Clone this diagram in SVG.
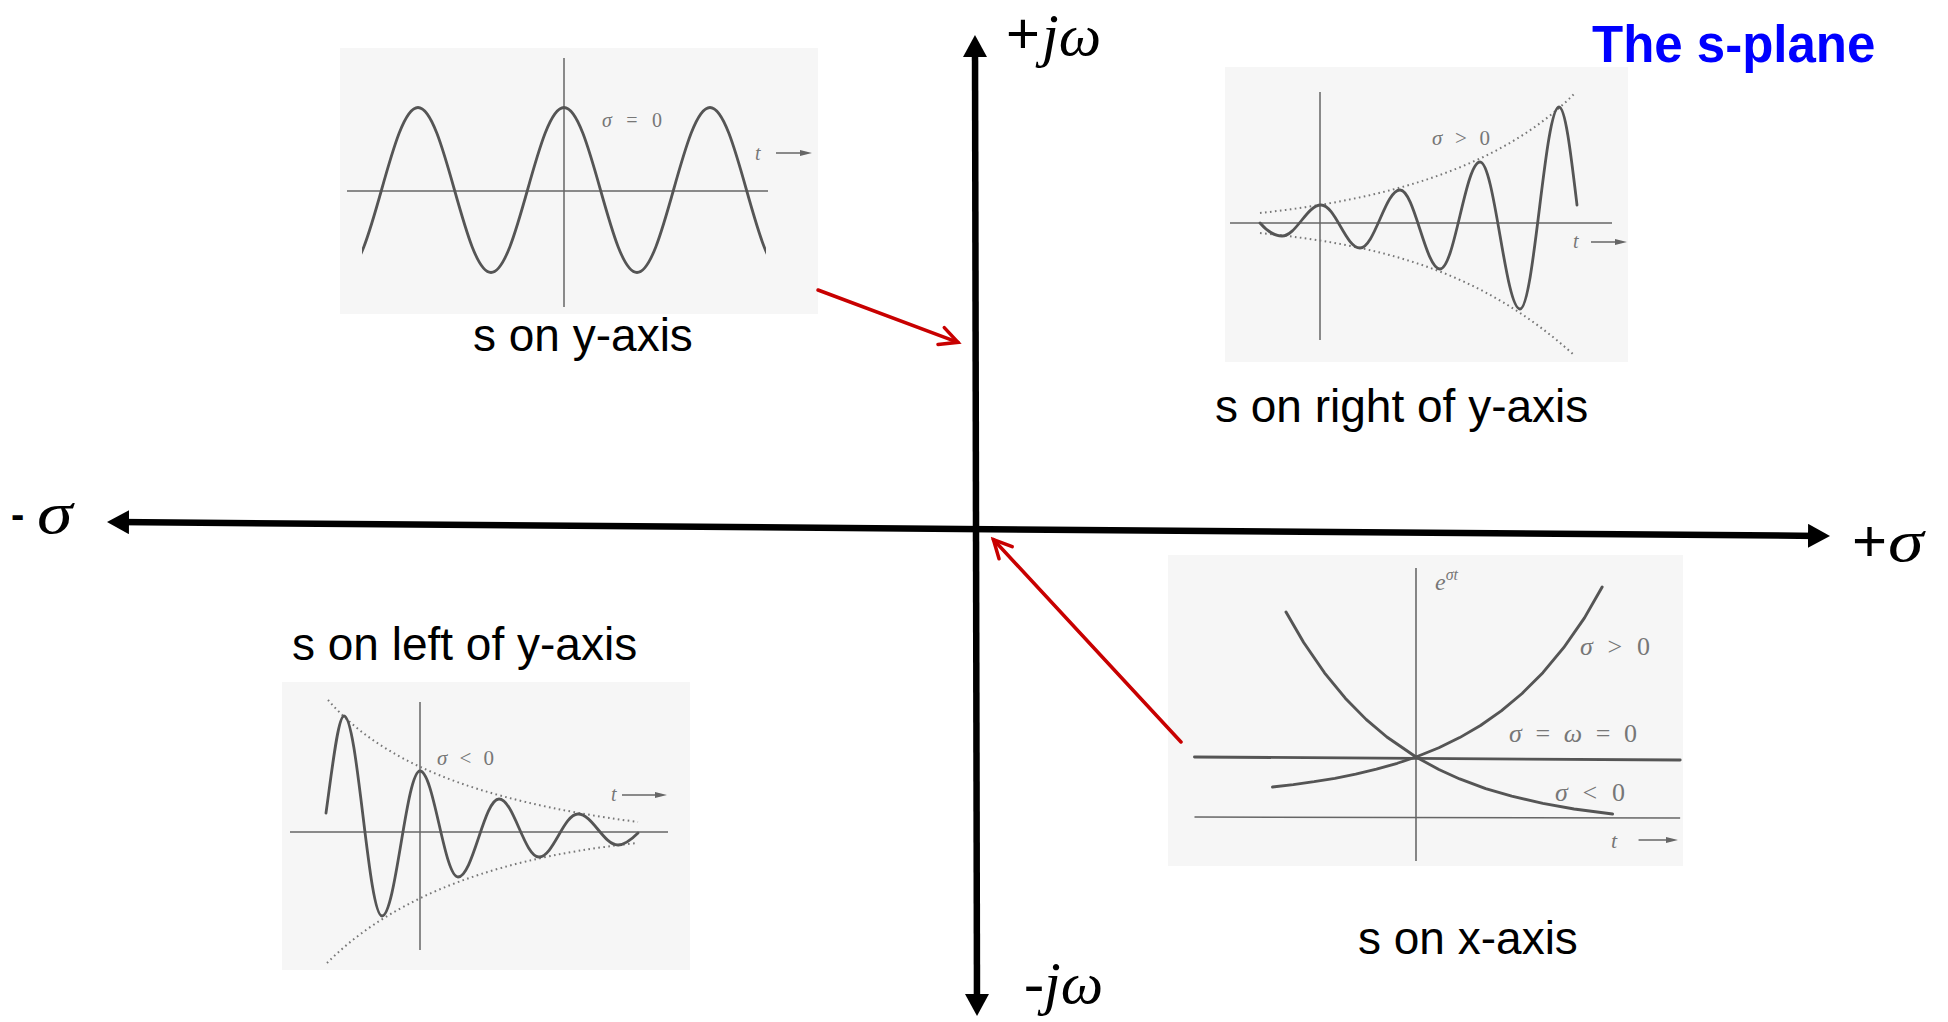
<svg xmlns="http://www.w3.org/2000/svg" width="1948" height="1022" viewBox="0 0 1948 1022">
<style>
.bg{fill:#f6f6f6}
.ax{stroke:#666;stroke-width:1.5;fill:none}
.wv{stroke:#555;stroke-width:2.8;fill:none;stroke-linecap:round;stroke-linejoin:round}
.env{stroke:#777;stroke-width:2;fill:none;stroke-dasharray:1.6 3.4}
.pt{font-family:"Liberation Serif","Times New Roman",serif;fill:#777}
.it{font-style:italic}
.lbl{font-family:"Liberation Sans",Arial,sans-serif;font-size:46px;fill:#000}
.axl{font-family:"Liberation Serif","Times New Roman",serif;font-size:60px;fill:#000}
.pls{font-family:"Liberation Sans",Arial,sans-serif;fill:#000}
.main{stroke:#000;stroke-width:6.5;fill:none}
.red{stroke:#C80000;stroke-width:3.5;fill:none;stroke-linecap:round}
.tar{stroke:#666;stroke-width:1.5;fill:none}
</style>
<defs>
<marker id="ah" viewBox="0 0 22 24" refX="12" refY="12" markerWidth="22" markerHeight="24" markerUnits="userSpaceOnUse" orient="auto-start-reverse"><path d="M0,0 L22,12 L0,24 z" fill="#000"/></marker>
<marker id="ra" viewBox="-22 -12 26 24" refX="0" refY="0" markerWidth="26" markerHeight="24" markerUnits="userSpaceOnUse" orient="auto"><path d="M-18,-9 L0,0 L-18,9" fill="none" stroke="#C80000" stroke-width="3.5" stroke-linecap="round"/></marker>
<marker id="sa" viewBox="0 0 12 8" refX="2" refY="4" markerWidth="12" markerHeight="8" markerUnits="userSpaceOnUse" orient="auto"><path d="M0,1 L12,4 L0,7 z" fill="#666"/></marker>
<clipPath id="c1"><rect x="362" y="60" width="404" height="250"/></clipPath>
</defs>

<g id="title"><text x="1592" y="62" font-family="'Liberation Sans',Arial,sans-serif" font-weight="bold" font-size="51" fill="#0000FF">The s-plane</text></g>

<g id="axis-labels">
<text class="pls" x="1006" y="53" font-size="58">+</text>
<text class="axl it" x="1042" y="55">jω</text>
<text class="axl" x="1024" y="1003">-<tspan class="it">jω</tspan></text>
<text class="pls" x="11" y="528" font-size="40" font-weight="bold">-</text>
<text class="axl it" transform="translate(37,533) scale(1.2,1)" x="0" y="0">σ</text>
<text class="pls" x="1852" y="561" font-size="60">+</text>
<text class="axl it" transform="translate(1888,561) scale(1.2,1)" x="0" y="0">σ</text>
</g>

<g id="plot-y-axis">
<rect class="bg" x="340" y="48" width="478" height="266"/>
<line class="ax" x1="347" y1="191" x2="768" y2="191"/>
<line class="ax" x1="564" y1="58" x2="564" y2="307"/>
<path class="wv" clip-path="url(#c1)" d="M345,272.5 C371.6,272.5 391.4,107.5 418,107.5 C444.6,107.5 464.4,272.5 491,272.5 C517.6,272.5 537.4,107.5 564,107.5 C590.6,107.5 610.4,272.5 637,272.5 C663.6,272.5 683.4,107.5 710,107.5 C736.6,107.5 756.4,272.5 783,272.5"/>
<text class="pt" x="602" y="127" font-size="20" textLength="60"><tspan class="it">σ</tspan> = 0</text>
<text class="pt it" x="755" y="160" font-size="20">t</text>
<line class="tar" x1="776" y1="153" x2="802" y2="153" marker-end="url(#sa)"/>
<text class="lbl" x="473" y="351">s on y-axis</text>
</g>

<g id="plot-right">
<rect class="bg" x="1225" y="67" width="403" height="295"/>
<line class="ax" x1="1230" y1="223" x2="1612" y2="223"/>
<line class="ax" x1="1320" y1="92" x2="1320" y2="340"/>
<path class="env" d="M1260,213 C1380,200 1500,170 1576,92"/>
<path class="env" d="M1260,233 C1380,245 1480,270 1574,355"/>
<path class="wv" d="M1260,223 C1267,231 1274,236 1282,236 C1296.2,236 1306.8,205 1321,205 C1335.2,205 1345.8,248 1360,248 C1374.6,248 1385.4,190 1400,190 C1414.6,190 1425.4,269 1440,269 C1454.6,269 1465.4,162 1480,162 C1494.6,162 1505.4,309 1520,309 C1534.2,309 1544.8,107 1559,107 C1565.5,107 1571,155 1577,205"/>
<text class="pt" x="1432" y="145" font-size="21" textLength="58"><tspan class="it">σ</tspan> &gt; 0</text>
<text class="pt it" x="1573" y="248" font-size="20">t</text>
<line class="tar" x1="1591" y1="242" x2="1617" y2="242" marker-end="url(#sa)"/>
<text class="lbl" x="1215" y="422">s on right of y-axis</text>
</g>

<g id="plot-left">
<text class="lbl" x="292" y="660">s on left of y-axis</text>
<rect class="bg" x="282" y="682" width="408" height="288"/>
<line class="ax" x1="290" y1="832" x2="668" y2="832"/>
<line class="ax" x1="420" y1="702" x2="420" y2="950"/>
<path class="env" d="M328,700 C380,760 470,800 638,822"/>
<path class="env" d="M327,963 C380,910 470,860 638,843"/>
<path class="wv" d="M326,813 C332,770 338,716 344,716 C357.8,716 368.2,916 382,916 C395.8,916 406.2,771 420,771 C433.8,771 444.2,877 458,877 C472.9,877 484.1,799 499,799 C513.6,799 524.4,857 539,857 C553.2,857 563.8,814 578,814 C592.6,814 603.4,845 618,845 C625,845 631,840 638,833"/>
<text class="pt" x="437" y="765" font-size="21" textLength="57"><tspan class="it">σ</tspan> &lt; 0</text>
<text class="pt it" x="611" y="801" font-size="20">t</text>
<line class="tar" x1="622" y1="795" x2="657" y2="795" marker-end="url(#sa)"/>
</g>

<g id="plot-x-axis">
<rect class="bg" x="1168" y="555" width="515" height="311"/>
<g transform="matrix(1.04,0,0,1,-48.32,0)">
<line class="ax" x1="1195" y1="817" x2="1662" y2="818"/>
<line class="ax" x1="1408" y1="568" x2="1408" y2="861"/>
<line class="wv" x1="1195" y1="757" x2="1662" y2="760"/>
<polyline class="wv" points="1270,787 1290,784.6 1310,781.7 1330,778.3 1350,774.2 1370,769.2 1390,763.3 1408,757 1430,747.8 1450,737.6 1470,725.5 1490,710.9 1510,693.5 1530,672.7 1550,647.7 1570,617.9 1587,587"/>
<polyline class="wv" points="1283,612 1300,642.5 1320,672.8 1340,698.2 1360,719.4 1380,737 1408,757 1430,769.5 1450,778.9 1475,788.6 1500,796.2 1530,803.4 1560,809 1597,814"/>
<line class="tar" x1="1622" y1="840" x2="1650" y2="840" marker-end="url(#sa)"/>
</g>
<text class="pt it" x="1435" y="590" font-size="24">e<tspan font-size="16" dy="-10">σt</tspan></text>
<text class="pt" x="1580" y="655" font-size="26" textLength="70"><tspan class="it">σ</tspan> &gt; 0</text>
<text class="pt" x="1509" y="742" font-size="26" textLength="128"><tspan class="it">σ</tspan> = <tspan class="it">ω</tspan> = 0</text>
<text class="pt" x="1555" y="801" font-size="26" textLength="70"><tspan class="it">σ</tspan> &lt; 0</text>
<text class="pt it" x="1611" y="848" font-size="22">t</text>
<text class="lbl" x="1358" y="954">s on x-axis</text>
</g>

<g id="connectors">
<line class="main" x1="975" y1="45" x2="977" y2="1006" marker-start="url(#ah)" marker-end="url(#ah)"/>
<line class="main" x1="117" y1="522.1" x2="1820" y2="535.9" marker-start="url(#ah)" marker-end="url(#ah)"/>
<line class="red" x1="818" y1="290" x2="958" y2="342.3" marker-end="url(#ra)"/>
<line class="red" x1="1181" y1="742" x2="993.4" y2="539.5" marker-end="url(#ra)"/>
</g>
</svg>
